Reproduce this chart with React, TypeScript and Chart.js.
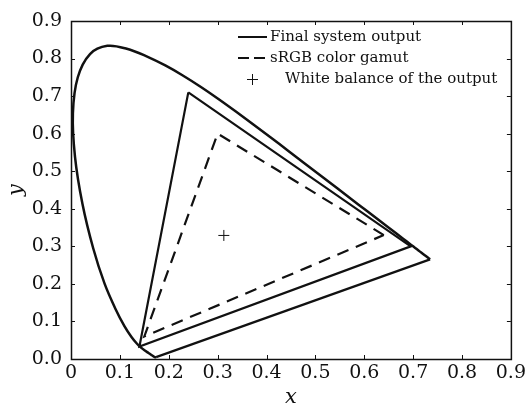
import React, { useEffect, useRef } from "react";
import { Chart, registerables } from "chart.js";

Chart.register(...registerables);

// CIE 1931 spectral locus (x, y), 380 nm -> 700 nm
const locusX = [0.1741, 0.1733, 0.1721, 0.1703, 0.1689, 0.1669, 0.1644, 0.1611, 0.1566, 0.151, 0.144, 0.1355, 0.1241, 0.1096, 0.0913, 0.0687, 0.0454, 0.0235, 0.0082, 0.0039, 0.0139, 0.0389, 0.0743, 0.1142, 0.1547, 0.1929, 0.2296, 0.2658, 0.3016, 0.3373, 0.3731, 0.4087, 0.4441, 0.4788, 0.5125, 0.5448, 0.5752, 0.6029, 0.627, 0.6482, 0.6658, 0.6801, 0.6915, 0.7006, 0.7079, 0.714, 0.719, 0.723, 0.726, 0.73, 0.7347];
const locusY = [0.005, 0.0048, 0.0048, 0.0058, 0.0069, 0.0086, 0.0109, 0.0138, 0.0177, 0.0227, 0.0297, 0.0399, 0.0578, 0.0868, 0.1327, 0.2007, 0.295, 0.4127, 0.5384, 0.6548, 0.7502, 0.812, 0.8338, 0.8262, 0.8059, 0.7816, 0.7543, 0.7243, 0.6923, 0.6589, 0.6245, 0.5896, 0.5547, 0.5202, 0.4866, 0.4544, 0.4242, 0.3965, 0.3725, 0.3514, 0.334, 0.3197, 0.3083, 0.2993, 0.292, 0.2859, 0.2809, 0.277, 0.274, 0.27, 0.2653];

// Final system output gamut triangle
const outputX = [0.24, 0.695, 0.14];
const outputY = [0.71, 0.3, 0.033];

// sRGB gamut triangle
const srgbX = [0.64, 0.3, 0.15];
const srgbY = [0.33, 0.6, 0.06];

// White balance point
const whiteX = [0.3127];
const whiteY = [0.329];

const legendLabels = ["Final system output", "sRGB color gamut", "White balance of the output"];
const axisMin = 0;
const axisMax = 0.9;
const axisStep = 0.1;

const closed = (xs: number[], ys: number[]) => {
  const pts = xs.map((x, i) => ({ x, y: ys[i] }));
  pts.push({ x: xs[0], y: ys[0] });
  return pts;
};

const INK = "#111";
const SERIF = "'DejaVu Serif', serif";

const framePlugin = {
  id: "frameTicks",
  afterDatasetsDraw(chart: any) {
    const { ctx, chartArea: a, scales } = chart;
    ctx.save();
    ctx.strokeStyle = INK;
    ctx.lineWidth = 1.5;
    ctx.setLineDash([]);
    ctx.strokeRect(a.left + 0.5, a.top + 0.5, a.right - a.left, a.bottom - a.top);
    const len = 4;
    ctx.lineWidth = 1;
    ctx.beginPath();
    scales.x.ticks.forEach((t: any) => {
      const px = Math.round(scales.x.getPixelForValue(t.value)) + 0.5;
      ctx.moveTo(px, a.bottom);
      ctx.lineTo(px, a.bottom - len);
      ctx.moveTo(px, a.top);
      ctx.lineTo(px, a.top + len);
    });
    scales.y.ticks.forEach((t: any) => {
      const py = Math.round(scales.y.getPixelForValue(t.value)) + 0.5;
      ctx.moveTo(a.left, py);
      ctx.lineTo(a.left + len, py);
      ctx.moveTo(a.right, py);
      ctx.lineTo(a.right - len, py);
    });
    ctx.stroke();
    ctx.restore();
  },
};

const legendPlugin = {
  id: "customLegend",
  afterDraw(chart: any) {
    const { ctx } = chart;
    ctx.save();
    ctx.fillStyle = INK;
    ctx.strokeStyle = INK;
    ctx.font = `15px ${SERIF}`;
    ctx.textBaseline = "middle";
    ctx.textAlign = "left";
    const rows = [37, 58, 79];
    ctx.lineWidth = 2;
    ctx.setLineDash([]);
    ctx.beginPath();
    ctx.moveTo(238, rows[0]);
    ctx.lineTo(267, rows[0]);
    ctx.stroke();
    ctx.fillText(legendLabels[0], 270, rows[0]);
    ctx.setLineDash([11, 5]);
    ctx.beginPath();
    ctx.moveTo(238, rows[1]);
    ctx.lineTo(267, rows[1]);
    ctx.stroke();
    ctx.setLineDash([]);
    ctx.fillText(legendLabels[1], 270, rows[1]);
    ctx.lineWidth = 1;
    ctx.beginPath();
    ctx.moveTo(247, rows[2] + 0.5);
    ctx.lineTo(258, rows[2] + 0.5);
    ctx.moveTo(252.5, rows[2] - 5);
    ctx.lineTo(252.5, rows[2] + 6);
    ctx.stroke();
    ctx.fillText(legendLabels[2], 285, rows[2]);
    ctx.restore();
  },
};

export default function App() {
  const ref = useRef<HTMLCanvasElement | null>(null);

  useEffect(() => {
    if (!ref.current) return;
    const locusPts = locusX.map((x, i) => ({ x, y: locusY[i] }));
    const purplePts = [
      { x: locusX[locusX.length - 1], y: locusY[locusY.length - 1] },
      { x: locusX[0], y: locusY[0] },
    ];
    const chart = new Chart(ref.current, {
      type: "scatter",
      data: {
        datasets: [
          {
            label: "locus",
            data: locusPts,
            showLine: true,
            borderColor: INK,
            borderWidth: 2.5,
            pointRadius: 0,
            tension: 0.35,
            fill: false,
          },
          {
            label: "purple line",
            data: purplePts,
            showLine: true,
            borderColor: INK,
            borderWidth: 2.2,
            pointRadius: 0,
            fill: false,
          },
          {
            label: legendLabels[0],
            data: closed(outputX, outputY),
            showLine: true,
            borderColor: INK,
            borderWidth: 2.2,
            pointRadius: 0,
            fill: false,
          },
          {
            label: legendLabels[1],
            data: closed(srgbX, srgbY),
            showLine: true,
            borderColor: INK,
            borderWidth: 2.2,
            borderDash: [12, 8],
            pointRadius: 0,
            fill: false,
          },
          {
            label: legendLabels[2],
            data: whiteX.map((x, i) => ({ x, y: whiteY[i] })),
            showLine: false,
            pointStyle: "cross",
            pointRadius: 5.5,
            borderColor: INK,
            borderWidth: 1,
          },
        ],
      },
      options: {
        responsive: false,
        animation: false,
        devicePixelRatio: 1,
        layout: { padding: { top: 21, right: 17, left: 0, bottom: 0 } },
        plugins: {
          legend: { display: false },
          tooltip: { enabled: false },
        },
        scales: {
          x: {
            type: "linear",
            min: axisMin,
            max: axisMax,
            grid: { display: false, drawTicks: false },
            border: { display: false },
            ticks: {
              stepSize: axisStep,
              color: INK,
              padding: 3,
              font: { family: SERIF, size: 19 },
              callback: (v: any) => (Number(v) === 0 ? "0" : Number(v).toFixed(1)),
            },
            title: {
              display: true,
              text: "x",
              color: INK,
              font: { family: SERIF, size: 21, style: "italic", lineHeight: 0.7 },
              padding: 0,
            },
            afterFit: (s: any) => {
              s.height = 46;
            },
          },
          y: {
            type: "linear",
            min: axisMin,
            max: axisMax,
            grid: { display: false, drawTicks: false },
            border: { display: false },
            ticks: {
              stepSize: axisStep,
              color: INK,
              padding: 9,
              font: { family: SERIF, size: 19 },
              callback: (v: any) => Number(v).toFixed(1),
            },
            title: {
              display: true,
              text: "y",
              color: INK,
              font: { family: SERIF, size: 21, style: "italic", lineHeight: 1.2 },
              padding: { top: 4, bottom: 0 },
            },
            afterFit: (s: any) => {
              s.width = 71;
            },
          },
        },
      },
      plugins: [framePlugin, legendPlugin],
    });
    return () => chart.destroy();
  }, []);

  return (
    <div style={{ position: "fixed", left: 0, top: 0, width: 529, height: 405, background: "#fff" }}>
      <canvas ref={ref} width={529} height={405} style={{ width: 529, height: 405 }} />
    </div>
  );
}
